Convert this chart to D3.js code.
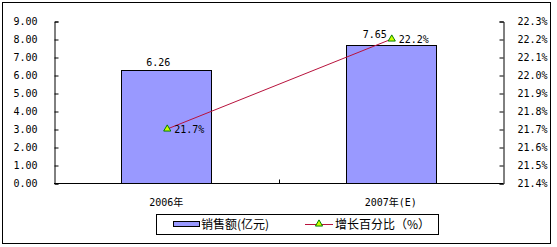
<!DOCTYPE html>
<html><head><meta charset="utf-8">
<script src="https://cdn.jsdelivr.net/npm/d3@7"></script>
<style>
body{margin:0;background:#fff;}
svg text{fill:#000;}
</style></head>
<body><svg id="c" width="557" height="247"></svg>
<script>
const categories = ["2006年", "2007年(E)"];
const sales = [6.26, 7.65];
const growth = [21.7, 22.2];
const leftTicks = [0,1,2,3,4,5,6,7,8,9];
const rightTicks = [21.4,21.5,21.6,21.7,21.8,21.9,22.0,22.1,22.2,22.3];
const seriesNames = ["销售额(亿元)", "增长百分比（%）"];

const svg = d3.select("#c");
const numFont = "'DejaVu Sans Mono', 'Noto Sans CJK SC', monospace";
const cjkFont = "'Noto Sans CJK SC', sans-serif";

svg.append("rect").attr("x",2.5).attr("y",2.5).attr("width",548).attr("height",241)
  .attr("fill","#fff").attr("stroke","#000").attr("stroke-width",1);

const L = 54, R = 503, T = 21, B = 183;
const xc = d3.scaleBand().domain(categories).range([L, R]);
const yL = d3.scaleLinear().domain([0, 9]).range([B, T]);
const yR = d3.scaleLinear().domain([21.4, 22.3]).range([B, T]);

// bars
svg.append("g").selectAll("rect").data(sales).join("rect")
  .attr("x",(d,i)=>Math.round(xc(categories[i])+xc.bandwidth()/2-45)+0.5)
  .attr("width",90)
  .attr("y",d=>Math.round(yL(d))+0.5)
  .attr("height",d=>B-Math.round(yL(d)))
  .attr("fill","#9999ff").attr("stroke","#000").attr("stroke-width",1);

// axes
const gl = svg.append("g").attr("transform",`translate(${L+0.5},0.5)`)
  .call(d3.axisLeft(yL).tickValues(leftTicks).tickSize(-4).tickPadding(17).tickFormat(d3.format(".2f")));
const gr = svg.append("g").attr("transform",`translate(${R+0.5},0.5)`)
  .call(d3.axisRight(yR).tickValues(rightTicks).tickSize(-4).tickPadding(14).tickFormat(d=>d.toFixed(1)+"%"));
[gl,gr].forEach(g=>{
  g.select(".domain").attr("stroke","#000");
  g.selectAll(".tick line").attr("stroke","#000");
  g.selectAll("text").attr("font-family",numFont).attr("font-size",10).attr("fill","#000");
});
// x axis
const gx = svg.append("g").attr("transform",`translate(0,${B+0.5})`);
gx.append("line").attr("x1",L).attr("x2",R).attr("stroke","#000");
gx.selectAll("line.t").data([categories[0]]).join("line").attr("class","t")
  .attr("x1",d=>Math.round(xc(d)+xc.bandwidth())+0.5).attr("x2",d=>Math.round(xc(d)+xc.bandwidth())+0.5)
  .attr("y1",0).attr("y2",-4).attr("stroke","#000");
gx.selectAll("text").data(categories).join("text")
  .attr("x",d=>xc(d)+xc.bandwidth()/2).attr("y",22)
  .attr("text-anchor","middle").attr("font-family",numFont).attr("font-size",10)
  .text(d=>d);

// bar labels
svg.append("g").selectAll("text").data(sales).join("text")
  .attr("x",(d,i)=>xc(categories[i])+xc.bandwidth()/2 - (i===1?16:8))
  .attr("y",(d,i)=>yL(d)-(i===1?7.5:4.5))
  .attr("text-anchor","middle").attr("font-family",numFont).attr("font-size",10)
  .text(d=>d.toFixed(2));

// line
const px = (d,i)=>xc(categories[i])+xc.bandwidth()/2+1;
const line = d3.line().x((d,i)=>px(d,i)).y(d=>yR(d));
svg.append("path").datum(growth).attr("d",line).attr("fill","none")
  .attr("stroke","#b8123c").attr("stroke-width",1);
const tri = d3.symbol().type(d3.symbolTriangle).size(22);
svg.append("g").selectAll("path").data(growth).join("path")
  .attr("transform",(d,i)=>`translate(${px(d,i)},${yR(d)})`)
  .attr("d",tri).attr("fill","#ccff00").attr("stroke","#008000").attr("stroke-width",1);
svg.append("g").selectAll("text").data(growth).join("text")
  .attr("x",(d,i)=>px(d,i)+7).attr("y",d=>yR(d)+4)
  .attr("font-family",numFont).attr("font-size",10)
  .text(d=>d.toFixed(1)+"%");

// legend
const lg = svg.append("g");
lg.append("rect").attr("x",156.5).attr("y",214.5).attr("width",282).attr("height",20)
  .attr("fill","#fff").attr("stroke","#000");
lg.append("rect").attr("x",173.5).attr("y",221.5).attr("width",26).attr("height",5)
  .attr("fill","#9999ff").attr("stroke","#000");
lg.append("text").attr("x",201).attr("y",228.5).attr("font-family",cjkFont).attr("font-size",12).text(seriesNames[0]);
lg.append("line").attr("x1",305).attr("x2",333).attr("y1",224.5).attr("y2",224.5).attr("stroke","#b8123c");
lg.append("path").attr("transform","translate(319,224)").attr("d",tri)
  .attr("fill","#ccff00").attr("stroke","#008000");
lg.append("text").attr("x",335).attr("y",228.5).attr("font-family",cjkFont).attr("font-size",12).text(seriesNames[1]);
</script></body></html>
